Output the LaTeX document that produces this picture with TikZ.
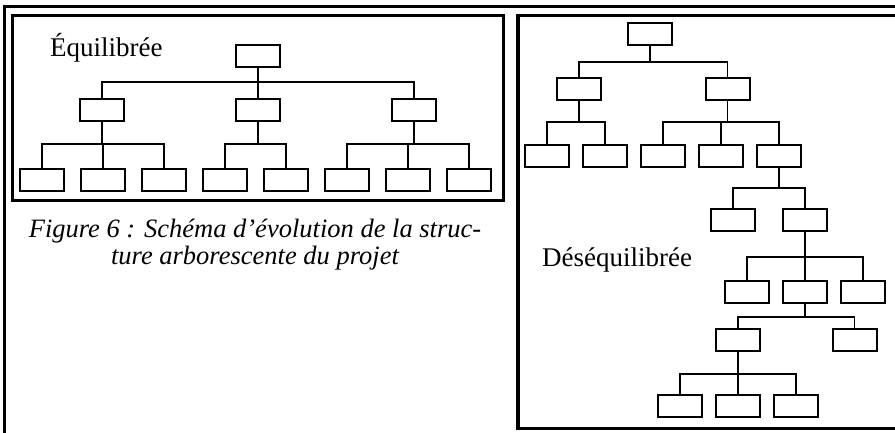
\documentclass[tikz,border=0pt]{standalone}
\usepackage{fontspec}
\setmainfont{Liberation Serif}
\usetikzlibrary{positioning}
\tikzset{
  box/.style={draw, line width=2pt, minimum width=44pt, minimum height=22pt, inner sep=0pt},
  link/.style={line width=1.7pt},
  panel/.style={line width=3.3pt},
  titre/.style={font=\fontsize{27}{30}\selectfont, anchor=base west, inner sep=0pt}
}
\begin{document}
\begin{tikzpicture}[x=1pt, y=-1pt]
    \clip (0,0) rectangle (895,433);

    % cadres
    \draw[panel] (4.5,6.5) rectangle (905,445);
    \draw[panel] (12.5,15.3) rectangle (503.3,200.3);
    \draw[panel] (518,15.3) rectangle (905,428.7);

    % arbre equilibre
    \node[titre] (eqT) at (50,56.5) {Équilibrée};
    \node[box] (eq) at (258,56) {};
    \node[box] (eqB) [below of=eq, node distance=54pt] {};
    \node[box] (eqA) [left of=eqB, node distance=156pt] {};
    \node[box] (eqC) [right of=eqB, node distance=156pt] {};
    \node[box] (eqA1) [below of=eqA, node distance=70pt, xshift=-60pt] {};
    \node[box] (eqA2) [right of=eqA1, node distance=61pt] {};
    \node[box] (eqA3) [right of=eqA2, node distance=61pt] {};
    \node[box] (eqB1) [right of=eqA3, node distance=61pt] {};
    \node[box] (eqB2) [right of=eqB1, node distance=61pt] {};
    \node[box] (eqC1) [right of=eqB2, node distance=61pt] {};
    \node[box] (eqC2) [right of=eqC1, node distance=61pt] {};
    \node[box] (eqC3) [right of=eqC2, node distance=61pt] {};

    \draw[link] (eq.south) -- ++(0,14) -| (eqA.north);
    \draw[link] (eq.south) -- ++(0,14) -| (eqB.north);
    \draw[link] (eq.south) -- ++(0,14) -| (eqC.north);
    \draw[link] (eqA.south) -- ++(0,22) -| (eqA1.north);
    \draw[link] (eqA.south) -- ++(0,22) -| (eqA2.north);
    \draw[link] (eqA.south) -- ++(0,22) -| (eqA3.north);
    \draw[link] (eqB.south) -- ++(0,22) -| (eqB1.north);
    \draw[link] (eqB.south) -- ++(0,22) -| (eqB2.north);
    \draw[link] (eqC.south) -- ++(0,22) -| (eqC1.north);
    \draw[link] (eqC.south) -- ++(0,22) -| (eqC2.north);
    \draw[link] (eqC.south) -- ++(0,22) -| (eqC3.north);

    % legende
    \node[font=\fontsize{26.5}{28}\selectfont\itshape, align=center, anchor=base] (fig) at (255,265)
        {Figure 6 : Schéma d’évolution de la struc-\\ture arborescente du projet};

    % arbre desequilibre
    \node[titre] (deT) at (542,266) {Déséquilibrée};
    \node[box] (de) at (650,34) {};
    \node[box] (deA) [below of=de, node distance=55pt, xshift=-71pt] {};
    \node[box] (deB) [right of=deA, node distance=148.5pt] {};
    \node[box] (deA1) [below of=deA, node distance=67pt, xshift=-32pt] {};
    \node[box] (deA2) [right of=deA1, node distance=58pt] {};
    \node[box] (deB1) [right of=deA2, node distance=58pt] {};
    \node[box] (deB2) [right of=deB1, node distance=58pt] {};
    \node[box] (deB3) [right of=deB2, node distance=58pt] {};
    \node[box] (deC2) [below of=deB3, node distance=64pt, xshift=26pt] {};
    \node[box] (deC1) [left of=deC2, node distance=72pt] {};
    \node[box] (deE2) [below of=deC2, node distance=71.5pt] {};
    \node[box] (deE1) [left of=deE2, node distance=58pt] {};
    \node[box] (deE3) [right of=deE2, node distance=58pt] {};
    \node[box] (deF1) [below of=deE1, node distance=48.5pt, xshift=-9pt] {};
    \node[box] (deF2) [right of=deF1, node distance=116.5pt] {};
    \node[box] (deG2) [below of=deF1, node distance=66pt] {};
    \node[box] (deG1) [left of=deG2, node distance=58pt] {};
    \node[box] (deG3) [right of=deG2, node distance=58pt] {};

    \draw[link] (de.south) -- ++(0,16) -| (deA.north);
    \draw[link] (de.south) -- ++(0,16) -| (deB.north);
    \draw[link] (deA.south) -- ++(0,21) -| (deA1.north);
    \draw[link] (deA.south) -- ++(0,21) -| (deA2.north);
    \draw[link] (deB.south) -- ++(0,21) -| (deB1.north);
    \draw[link] (deB.south) -- ++(0,21) -| (deB2.north);
    \draw[link] (deB.south) -- ++(0,21) -| (deB3.north);
    \draw[link] (deB3.south) -- ++(0,20) -| (deC1.north);
    \draw[link] (deB3.south) -- ++(0,20) -| (deC2.north);
    \draw[link] (deC2.south) -- ++(0,25) -| (deE1.north);
    \draw[link] (deC2.south) -- ++(0,25) -| (deE2.north);
    \draw[link] (deC2.south) -- ++(0,25) -| (deE3.north);
    \draw[link] (deE2.south) -- ++(0,13.5) -| (deF1.north);
    \draw[link] (deE2.south) -- ++(0,13.5) -| (deF2.north);
    \draw[link] (deF1.south) -- ++(0,22) -| (deG1.north);
    \draw[link] (deF1.south) -- ++(0,22) -| (deG2.north);
    \draw[link] (deF1.south) -- ++(0,22) -| (deG3.north);
\end{tikzpicture}
\end{document}
